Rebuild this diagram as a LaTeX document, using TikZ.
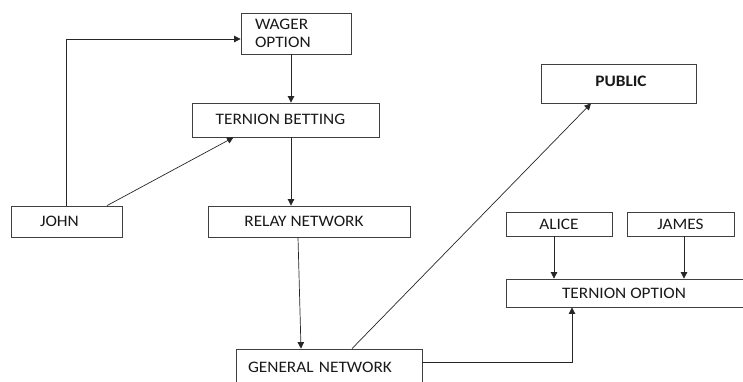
\documentclass[tikz,border=0pt]{standalone}
\usepackage{fontspec}
\setmainfont[FakeStretch=1.08]{Carlito}
\usetikzlibrary{arrows.meta,calc}

\tikzset{
  box/.style={draw=black!75, line width=0.8pt, rectangle, inner sep=0pt,
              font=\fontsize{16}{18}\selectfont, text=black!90},
  arr/.style={draw=black!85, line width=0.7pt,
              -{Triangle[length=6.5pt,width=6.5pt]}},
  line/.style={draw=black!85, line width=0.7pt}
}

\begin{document}
\begin{tikzpicture}[x=1pt,y=-1pt]
  \useasboundingbox (0,0) rectangle (743,381);
  \clip (0,0) rectangle (743,381);

  % boxes
  \node[box, minimum width=110pt, minimum height=41pt, text width=82pt,
        align=left, inner xsep=14pt] (wager) at (296,33.5) {WAGER\\OPTION};
  \node[box, minimum width=187pt, minimum height=34pt] (tb) at (285.5,120)
        {\hspace*{-10pt}\raisebox{2pt}{TERNION BETTING}};
  \node[box, minimum width=111pt, minimum height=31pt, text width=53pt,
        align=left, inner xsep=29pt] (john) at (66.5,221.5) {JOHN};
  \node[box, minimum width=202pt, minimum height=31pt] (relay) at (309,221.5)
        {\hspace*{-10pt}RELAY NETWORK};
  \node[box, minimum width=186pt, minimum height=36pt, text width=162pt,
        align=left, inner xsep=12pt] (general) at (329,367) {GENERAL NETWORK\\[6pt]};
  \node[box, minimum width=155pt, minimum height=39pt] (public) at (618.5,83.5)
        {\raisebox{5pt}{\bfseries\hspace*{5pt}PUBLIC}};
  \node[box, minimum width=106pt, minimum height=24pt] (alice) at (559,224) {ALICE};
  \node[box, minimum width=107pt, minimum height=24pt] (james) at (680.5,224) {JAMES};
  \node[box, minimum width=240pt, minimum height=28pt] (topt) at (626,293)
        {\hspace*{-4pt}TERNION OPTION};

  % connectors
  \draw[arr] ([xshift=-5pt]wager.south) -- ([xshift=-5pt]wager.south |- tb.north);
  \draw[arr] ([xshift=5.5pt]tb.south) -- ([xshift=5.5pt]tb.south |- relay.north);
  \draw[arr] (john.north) |- ([yshift=-5.5pt]wager.west);
  \draw[arr] ([xshift=40.5pt]john.north) -- ([xshift=-52pt]tb.south);
  \draw[arr] ([xshift=-11pt]relay.south) -- ([xshift=-28pt]general.north);
  \draw[arr] ([xshift=23pt]general.north) -- ([xshift=-27.5pt]public.south);
  \draw[arr] ([xshift=-5pt]alice.south) -- ([xshift=-5pt]alice.south |- topt.north);
  \draw[arr] ([xshift=3.5pt]james.south) -- ([xshift=3.5pt]james.south |- topt.north);
  \coordinate (gto) at ([yshift=5pt]general.east);
  \draw[arr] (gto) -| ([xshift=-54pt]topt.south);
\end{tikzpicture}
\end{document}
